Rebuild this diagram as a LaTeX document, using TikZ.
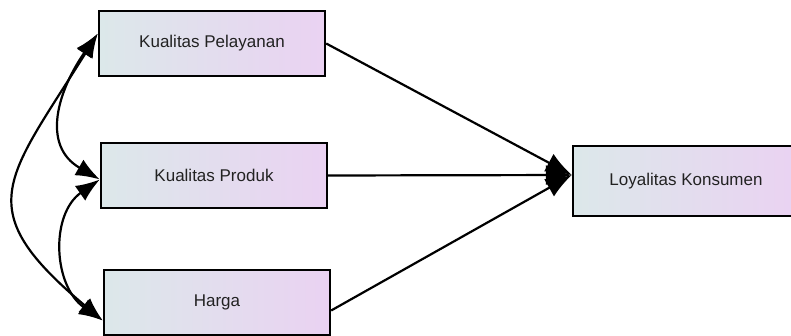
\documentclass[tikz,border=0pt]{standalone}
\usepackage{fontspec}
\setmainfont{Liberation Sans}
\usetikzlibrary{arrows.meta}
\definecolor{kiri}{RGB}{220,232,234}
\definecolor{kanan}{RGB}{234,210,242}
\definecolor{teks}{RGB}{34,34,34}
\begin{document}
\begin{tikzpicture}
  [
    x = 1pt, y = 1pt,
    variabel/.style = {shape=rectangle, draw, line width=2.4pt,
                       left color=kiri, right color=kanan,
                       minimum width=226pt, minimum height=65pt,
                       text=teks, font=\fontsize{17}{19}\selectfont},
    % panah dengan kepala segitiga besar
    jalur/.style = {draw, line width=2.2pt, -{Latex[length=26pt,width=20pt]}},
    korelasi/.style = {draw, line width=2.2pt,
                       {Latex[length=24pt,width=18pt]}-{Latex[length=24pt,width=18pt]}}
    ]
    \useasboundingbox (0,0) rectangle (791,336);
    \node [variabel] (pelayanan) at (212,292.5) {Kualitas Pelayanan};
    \node [variabel] (produk)    at (214,160.5) {Kualitas Produk};
    \node [variabel] (harga)     at (217,33.5)  {Harga};
    \node [variabel, minimum height=70pt] (loyalitas) at (686,155) {Loyalitas Konsumen};
    % pengaruh langsung
    \draw [jalur] (pelayanan.east) -- (loyalitas.177);
    \draw [jalur] (produk.east)    -- (loyalitas.177);
    \draw [jalur] (harga.356)      -- (loyalitas.177);
    % hubungan antar variabel bebas
    \draw [korelasi] (pelayanan.175) to [out=235, in=150, looseness=1.2] (produk.182);
    \draw [korelasi] (produk.182)    to [out=215, in=145, looseness=1.1] (harga.189);
    \draw [korelasi] (pelayanan.175) to [out=238, in=140, looseness=1.55] (harga.189);
\end{tikzpicture}
\end{document}
